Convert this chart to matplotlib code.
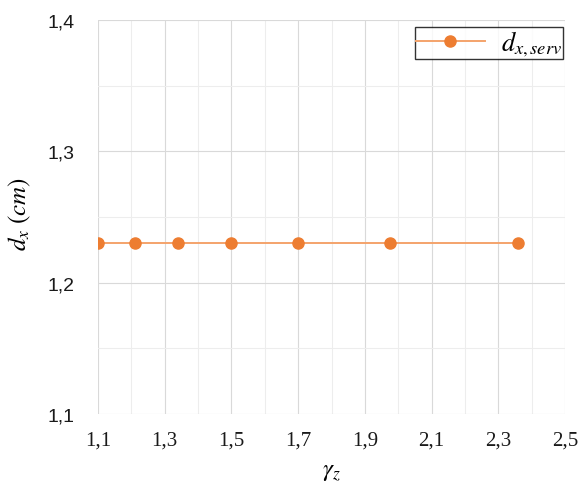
import matplotlib
matplotlib.use("Agg")
import matplotlib.pyplot as plt
from matplotlib.ticker import MultipleLocator, FuncFormatter

plt.rcParams["mathtext.fontset"] = "stix"

gamma_z = [1.1, 1.21, 1.34, 1.5, 1.7, 1.975, 2.36]
d_x_serv = [1.23, 1.23, 1.23, 1.23, 1.23, 1.23, 1.23]

x_ticks = [1.1, 1.3, 1.5, 1.7, 1.9, 2.1, 2.3, 2.5]
y_ticks = [1.1, 1.2, 1.3, 1.4]

fig = plt.figure(figsize=(5.85, 4.89), dpi=100)
ax = fig.add_axes([98 / 585, 1 - 415 / 489, (565 - 98) / 585, (415 - 21) / 489])

ax.plot(gamma_z, d_x_serv, color="#F4A36B", lw=1.4, zorder=3,
        marker="o", markersize=8, markerfacecolor="#ED7D31",
        markeredgecolor="#ED7D31", label=r"$d_{x,serv}$")

ax.set_xlim(1.1, 2.5)
ax.set_ylim(1.1, 1.4)
ax.set_xticks(x_ticks)
ax.set_yticks(y_ticks)
ax.xaxis.set_minor_locator(MultipleLocator(0.1))
ax.yaxis.set_minor_locator(MultipleLocator(0.05))
comma = FuncFormatter(lambda v, p: f"{v:.1f}".replace(".", ","))
ax.xaxis.set_major_formatter(comma)
ax.yaxis.set_major_formatter(comma)

ax.grid(True, which="major", color="#D9D9D9", lw=0.8, zorder=0)
ax.grid(True, which="minor", color="#EDEDED", lw=0.8, zorder=0)
for s in ax.spines.values():
    s.set_visible(False)
ax.tick_params(which="both", length=0)
ax.tick_params(axis="x", pad=12, labelsize=15, colors="#1a1a1a")
ax.tick_params(axis="y", pad=17, labelsize=14, colors="#1a1a1a")
for lab in ax.get_xticklabels():
    lab.set_family("Liberation Serif")
for lab in ax.get_yticklabels():
    lab.set_family("Liberation Sans")

ax.set_xlabel(r"$\gamma_z$", fontsize=18, labelpad=6)
ax.set_ylabel(r"$d_x\ (cm)$", fontsize=18)
ax.yaxis.set_label_coords(-0.139, 0.51)

leg = ax.legend(loc="upper right", bbox_to_anchor=(0.9957, 0.982), fontsize=19,
                frameon=True, fancybox=False, edgecolor="black",
                handlelength=2.6, borderpad=0.05, handletextpad=0.6,
                borderaxespad=0)
leg.get_frame().set_linewidth(1.0)

fig.savefig("out.png", dpi=100)
